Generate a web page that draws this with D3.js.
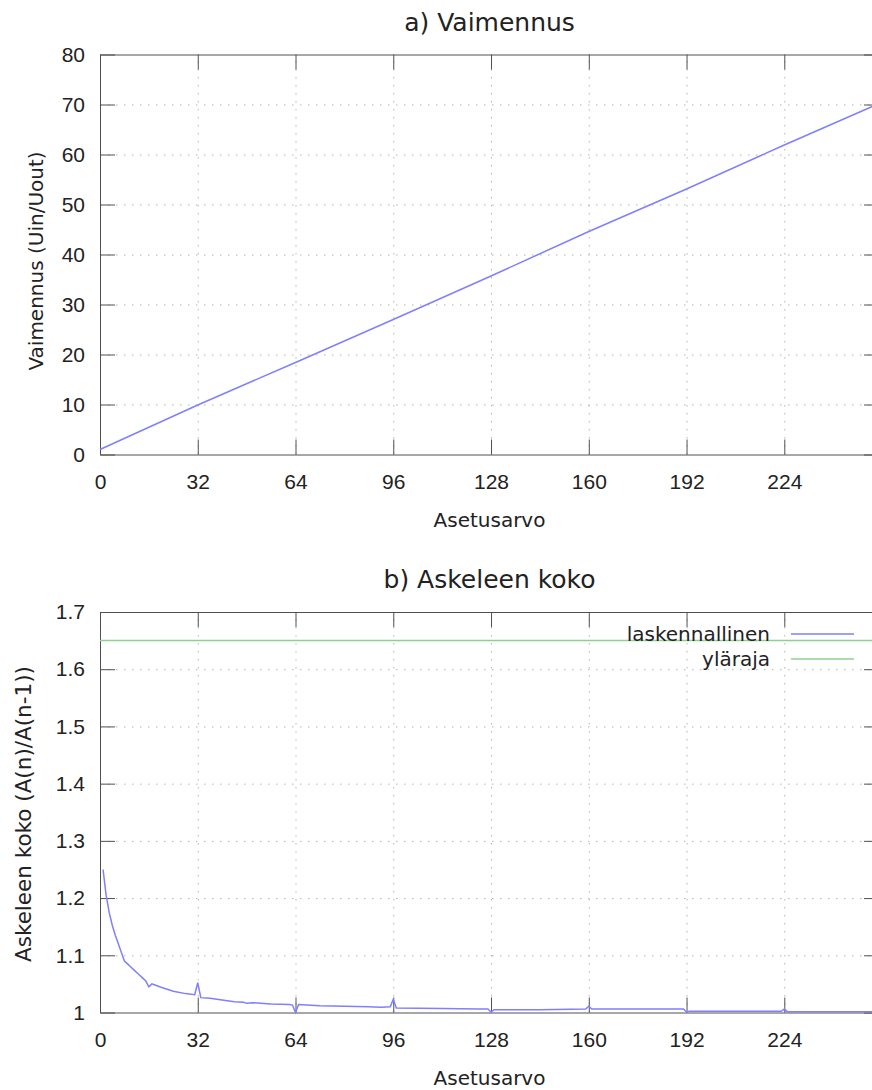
<!DOCTYPE html>
<html>
<head>
  <meta charset="utf-8">
  <title>Vaimennus ja askeleen koko</title>
  <script src="https://d3js.org/d3.v7.min.js"></script>
  <style>
    body { margin: 0; background: #fff; }
    svg { display: block; font-family: "DejaVu Sans", Verdana, sans-serif; }
    .grid line { stroke: #b4b4b4; stroke-dasharray: 1.5,6.5; }
    .grid .domain { display: none; }
    .frame .domain, .frame line { stroke: #505050; }
    .frame text { fill: #222; font-size: 21px; }
  </style>
</head>
<body>
  <svg width="872" height="1090"></svg>

  <script>
    // a) attenuation vs setting
    const attenX = [0, 32, 64, 96, 128, 160, 192, 224, 255];
    const attenY = [1.0, 9.9, 18.4, 27.0, 35.7, 44.6, 53.1, 61.9, 70.2];

    // b) step size A(n)/A(n-1)
    const stepX = [1, 2, 3, 4, 5, 6, 7, 8, 9, 10, 11, 12, 13, 14, 15, 16, 17, 18, 20, 24, 28, 31,
      32, 33, 36, 40, 44, 47, 48, 50, 56, 62, 63, 64, 65, 72, 80, 88, 92, 95, 96, 97, 112, 124, 127,
      128, 129, 144, 159, 160, 161, 176, 191, 192, 193, 208, 223, 224, 225, 240, 255];
    const stepY = [1.25, 1.205, 1.175, 1.153, 1.135, 1.12, 1.105, 1.09, 1.085, 1.08, 1.075, 1.07, 1.065, 1.06, 1.055, 1.045, 1.05, 1.048, 1.044, 1.037, 1.033, 1.031,
      1.052, 1.026, 1.025, 1.022, 1.019, 1.018, 1.016, 1.017, 1.015, 1.014, 1.013, 1.0, 1.014, 1.012, 1.011, 1.010, 1.009, 1.010, 1.023, 1.008, 1.007, 1.006, 1.006,
      1.001, 1.005, 1.005, 1.006, 1.011, 1.006, 1.006, 1.006, 1.001, 1.002, 1.002, 1.002, 1.006, 1.0015, 1.0015, 1.0015];
    const limitY = 1.65;

    const xTicks = [0, 32, 64, 96, 128, 160, 192, 224];
    const yTicksA = [0, 10, 20, 30, 40, 50, 60, 70, 80];
    const yTicksB = [1, 1.1, 1.2, 1.3, 1.4, 1.5, 1.6, 1.7];

    const svg = d3.select("svg");
    const left = 100, right = 879, tick = 15;

    function panel(cfg) {
      const x = d3.scaleLinear().domain([0, 255]).range([left, right]);
      const y = d3.scaleLinear().domain(cfg.yDomain).range([cfg.bottom, cfg.top]);
      const g = svg.append("g");

      // dotted grid
      g.append("g").attr("class", "grid")
        .attr("transform", `translate(0,${cfg.bottom})`)
        .call(d3.axisBottom(x).tickValues(xTicks.slice(1)).tickSize(-(cfg.bottom - cfg.top)).tickFormat(""));
      g.append("g").attr("class", "grid")
        .attr("transform", `translate(${left},0)`)
        .call(d3.axisLeft(y).tickValues(cfg.yTicks.slice(1, -1)).tickSize(-(right - left)).tickFormat(""));

      // frame with inward ticks on all sides
      g.append("g").attr("class", "frame")
        .attr("transform", `translate(0,${cfg.bottom})`)
        .call(d3.axisBottom(x).tickValues(xTicks).tickSize(-tick).tickSizeOuter(0).tickPadding(20));
      g.append("g").attr("class", "frame")
        .attr("transform", `translate(0,${cfg.top})`)
        .call(d3.axisTop(x).tickValues(xTicks).tickSize(-tick).tickSizeOuter(0).tickFormat(""));
      g.append("g").attr("class", "frame")
        .attr("transform", `translate(${left},0)`)
        .call(d3.axisLeft(y).tickValues(cfg.yTicks).tickSize(-tick).tickSizeOuter(0).tickPadding(15).tickFormat(cfg.fmt));
      g.append("g").attr("class", "frame")
        .attr("transform", `translate(${right},0)`)
        .call(d3.axisRight(y).tickValues(cfg.yTicks).tickSize(-tick).tickSizeOuter(0).tickFormat(""));

      g.append("text").attr("x", (left + right) / 2).attr("y", cfg.top - 24)
        .attr("text-anchor", "middle").attr("font-size", 25).attr("fill", "#222").text(cfg.title);
      g.append("text").attr("x", (left + right) / 2).attr("y", cfg.bottom + 72)
        .attr("text-anchor", "middle").attr("font-size", 20).attr("fill", "#222").text("Asetusarvo");
      g.append("text")
        .attr("transform", `translate(${cfg.ylabelX},${cfg.ylabelY}) rotate(-90)`)
        .attr("text-anchor", "middle").attr("font-size", cfg.ylabelSize).attr("fill", "#222").text(cfg.ylabel);

      return { g, x, y };
    }

    // a) Vaimennus
    const a = panel({
      top: 54.5, bottom: 454.5, yDomain: [0, 80], yTicks: yTicksA, fmt: d3.format("d"),
      title: "a) Vaimennus", ylabel: "Vaimennus (Uin/Uout)", ylabelX: 43, ylabelY: 261, ylabelSize: 20
    });
    a.g.append("path")
      .datum(attenX.map((d, i) => [d, attenY[i]]))
      .attr("fill", "none").attr("stroke", "#7f7fff").attr("stroke-width", 1.5)
      .attr("d", d3.line().x(d => a.x(d[0])).y(d => a.y(d[1])));

    // b) Askeleen koko
    const b = panel({
      top: 612, bottom: 1012.5, yDomain: [1, 1.7], yTicks: yTicksB, fmt: d => d === 1 ? "1" : d3.format(".1f")(d),
      title: "b) Askeleen koko", ylabel: "Askeleen koko (A(n)/A(n-1))", ylabelX: 31, ylabelY: 814, ylabelSize: 21.5
    });
    b.g.append("path")
      .datum(stepX.map((d, i) => [d, stepY[i]]))
      .attr("fill", "none").attr("stroke", "#7f7fff").attr("stroke-width", 1.5)
      .attr("d", d3.line().x(d => b.x(d[0])).y(d => b.y(d[1])));
    b.g.append("line")
      .attr("x1", left).attr("x2", right).attr("y1", b.y(limitY)).attr("y2", b.y(limitY))
      .attr("stroke", "#8fd08f").attr("stroke-width", 1.5);

    // legend
    const legend = [
      { name: "laskennallinen", color: "#7f7fff", dy: 0 },
      { name: "yläraja", color: "#8fd08f", dy: 25 }
    ];
    const lg = b.g.append("g").attr("transform", "translate(0,634)");
    legend.forEach(d => {
      lg.append("text").attr("x", 770).attr("y", d.dy + 7).attr("text-anchor", "end")
        .attr("font-size", 20).attr("fill", "#222").text(d.name);
      lg.append("line").attr("x1", 791).attr("x2", 854).attr("y1", d.dy).attr("y2", d.dy)
        .attr("stroke", d.color).attr("stroke-width", 1.5);
    });
  </script>
</body>
</html>
